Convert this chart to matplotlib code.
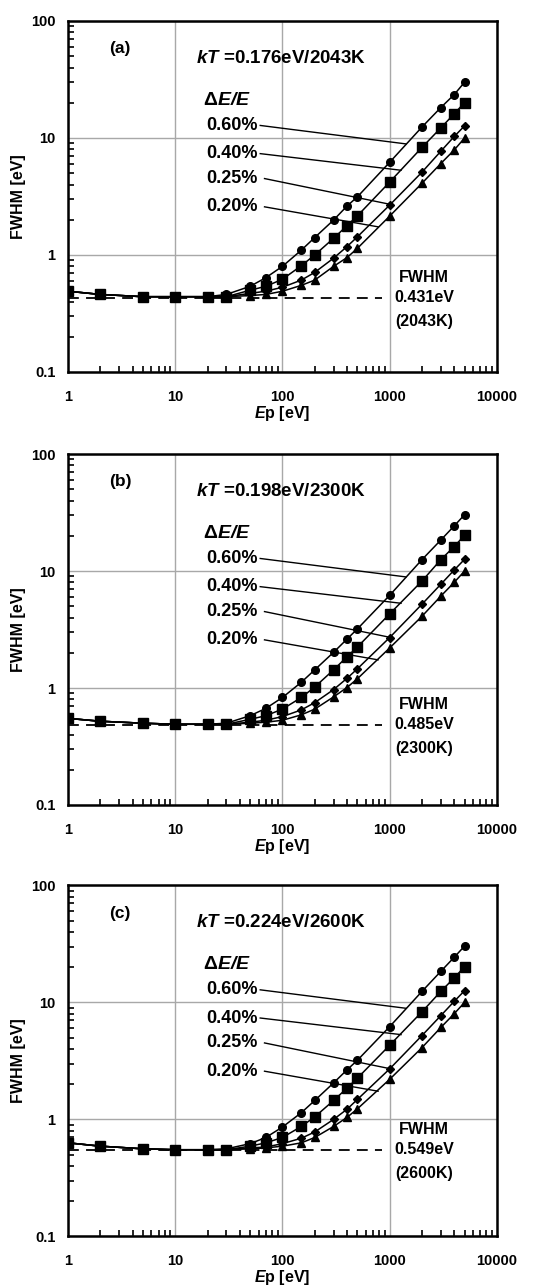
import numpy as np
import matplotlib.pyplot as plt
from matplotlib.ticker import LogLocator, NullFormatter, FixedLocator, FixedFormatter

plt.rcParams['font.family'] = ['Liberation Sans', 'DejaVu Sans']
plt.rcParams['font.weight'] = 'bold'
plt.rcParams['mathtext.fontset'] = 'custom'
plt.rcParams['mathtext.rm'] = 'Liberation Sans:bold'
plt.rcParams['mathtext.bf'] = 'Liberation Sans:bold'
plt.rcParams['mathtext.it'] = 'Liberation Sans:italic:bold'
plt.rcParams['mathtext.bfit'] = 'Liberation Sans:italic:bold'

# primary energy Ep [eV]
ep = [1, 2, 5, 10, 20, 30, 50, 70, 100, 150, 200, 300, 400, 500, 1000, 2000, 3000, 4000, 5000]

# (a) kT = 0.176 eV
a_060 = [0.49, 0.46, 0.44, 0.44, 0.44, 0.46, 0.54, 0.64, 0.80, 1.10, 1.41, 1.99, 2.62, 3.14, 6.2, 12.4, 18.2, 23.5, 30.0]
a_040 = [0.49, 0.46, 0.44, 0.44, 0.44, 0.44, 0.50, 0.54, 0.62, 0.81, 1.00, 1.39, 1.78, 2.16, 4.2, 8.3, 12.2, 16.1, 20.1]
a_025 = [0.49, 0.46, 0.44, 0.44, 0.44, 0.44, 0.47, 0.49, 0.53, 0.61, 0.71, 0.94, 1.18, 1.43, 2.67, 5.1, 7.7, 10.3, 12.7]
a_020 = [0.49, 0.46, 0.44, 0.44, 0.44, 0.44, 0.45, 0.46, 0.49, 0.55, 0.61, 0.80, 0.95, 1.14, 2.15, 4.1, 6.05, 7.9, 10.0]

# (b) kT = 0.198 eV
b_060 = [0.55, 0.52, 0.50, 0.49, 0.49, 0.50, 0.58, 0.67, 0.83, 1.12, 1.43, 2.02, 2.62, 3.2, 6.2, 12.5, 18.4, 24.3, 30.3]
b_040 = [0.55, 0.52, 0.50, 0.49, 0.49, 0.49, 0.54, 0.58, 0.66, 0.83, 1.02, 1.43, 1.85, 2.24, 4.3, 8.2, 12.5, 16.2, 20.2]
b_025 = [0.55, 0.52, 0.50, 0.49, 0.49, 0.49, 0.51, 0.53, 0.57, 0.65, 0.75, 0.97, 1.21, 1.46, 2.7, 5.2, 7.7, 10.2, 12.6]
b_020 = [0.55, 0.52, 0.50, 0.49, 0.49, 0.49, 0.50, 0.51, 0.53, 0.59, 0.66, 0.84, 1.01, 1.20, 2.2, 4.1, 6.1, 8.0, 10.0]

# (c) kT = 0.224 eV
c_060 = [0.63, 0.59, 0.56, 0.55, 0.55, 0.56, 0.62, 0.70, 0.86, 1.14, 1.45, 2.05, 2.65, 3.2, 6.2, 12.4, 18.4, 24.3, 30.3]
c_040 = [0.63, 0.59, 0.56, 0.55, 0.55, 0.55, 0.59, 0.63, 0.70, 0.87, 1.05, 1.45, 1.85, 2.25, 4.3, 8.3, 12.4, 16.2, 20.2]
c_025 = [0.63, 0.59, 0.56, 0.55, 0.55, 0.55, 0.57, 0.58, 0.62, 0.69, 0.78, 1.0, 1.22, 1.48, 2.7, 5.2, 7.7, 10.2, 12.6]
c_020 = [0.63, 0.59, 0.56, 0.55, 0.55, 0.55, 0.56, 0.57, 0.59, 0.63, 0.70, 0.87, 1.04, 1.23, 2.2, 4.1, 6.1, 8.0, 10.0]

panel_tags = ['(a)', '(b)', '(c)']
kt_ev = ['0.176', '0.198', '0.224']
temp_k = ['2043', '2300', '2600']
fwhm_thermal = [0.431, 0.485, 0.549]
res_labels = ['0.60%', '0.40%', '0.25%', '0.20%']

series = [[a_060, a_040, a_025, a_020],
          [b_060, b_040, b_025, b_020],
          [c_060, c_040, c_025, c_020]]

marker_style = [('o', 5.5), ('s', 6.5), ('D', 4.3), ('^', 6.0)]
# label y, connector start x, connector end (x, y)
callouts = [(12.8, 62, 1420, 8.9),
            (7.35, 62, 1276, 5.3),
            (4.5, 68, 990, 2.72),
            (2.58, 68, 780, 1.74)]

fig = plt.figure(figsize=(5.36, 12.88), dpi=100)
bottoms = [0.7112, 0.375, 0.0401]

for k in range(3):
    ax = fig.add_axes([0.127, bottoms[k], 0.800, 0.2725])
    ax.set_xscale('log')
    ax.set_yscale('log')
    ax.set_xlim(1, 10000)
    ax.set_ylim(0.1, 100)

    base = fwhm_thermal[k]
    ax.plot([1, 850], [base, base], color='black', lw=1.3, ls=(0, (6, 4)), zorder=2)

    order = [0, 2, 3, 1]
    for i in order:
        m, ms = marker_style[i]
        ax.plot(ep, series[k][i], color='black', lw=1.1, marker=m, ms=ms,
                markerfacecolor='black', markeredgecolor='black', zorder=3)

    for i, (ly, x0, x1, y1) in enumerate(callouts):
        ax.text(59, ly, res_labels[i], ha='right', va='center', fontsize=13, fontweight='bold')
        ax.plot([x0, x1], [ly, y1], color='black', lw=1.0, zorder=4)

    ax.text(18, 21, r'Δ$\mathbfit{E/E}$', ha='left', va='center', fontsize=14, fontweight='bold')
    ax.text(15.5, 48, r'$\mathbfit{kT}$ =' + kt_ev[k] + 'eV/' + temp_k[k] + 'K',
            ha='left', va='center', fontsize=13.5, fontweight='bold')
    ax.text(2.4, 58, panel_tags[k], ha='left', va='center', fontsize=12.5, fontweight='bold')

    ax.text(2100, base * 1.5, 'FWHM', ha='center', va='center', fontsize=11.5, fontweight='bold')
    ax.text(2100, base * 1.0, f'{base:.3f}eV', ha='center', va='center', fontsize=11.5,
            fontweight='bold', bbox=dict(facecolor='white', edgecolor='none', pad=1))
    ax.text(2100, base * 0.63, f'({temp_k[k]}K)', ha='center', va='center', fontsize=11.5,
            fontweight='bold')

    ax.xaxis.set_major_locator(FixedLocator([1, 10, 100, 1000, 10000]))
    ax.xaxis.set_major_formatter(FixedFormatter(['1', '10', '100', '1000', '10000']))
    ax.yaxis.set_major_locator(FixedLocator([0.1, 1, 10, 100]))
    ax.yaxis.set_major_formatter(FixedFormatter(['0.1', '1', '10', '100']))
    ax.xaxis.set_minor_locator(LogLocator(base=10, subs=np.arange(2, 10)))
    ax.yaxis.set_minor_locator(LogLocator(base=10, subs=np.arange(2, 10)))
    ax.xaxis.set_minor_formatter(NullFormatter())
    ax.yaxis.set_minor_formatter(NullFormatter())

    ax.grid(True, which='major', color='#a8a8a8', lw=1.0)
    ax.set_axisbelow(True)
    ax.tick_params(which='both', direction='in', top=False, right=False, width=1.2)
    ax.tick_params(which='major', length=0)
    ax.tick_params(which='minor', length=4)
    ax.tick_params(axis='x', which='major', pad=13, labelsize=10.5)
    ax.tick_params(axis='y', which='major', pad=9, labelsize=10.5)
    for t in ax.get_xticklabels() + ax.get_yticklabels():
        t.set_fontweight('bold')
    for s in ax.spines.values():
        s.set_linewidth(1.8)

    ax.set_xlabel(r'$\mathbfit{E}$p [eV]', fontsize=11.5, fontweight='bold', labelpad=0)
    ax.set_ylabel('FWHM [eV]', fontsize=11.5, fontweight='bold', labelpad=4)

fig.savefig('out.png', dpi=100)
